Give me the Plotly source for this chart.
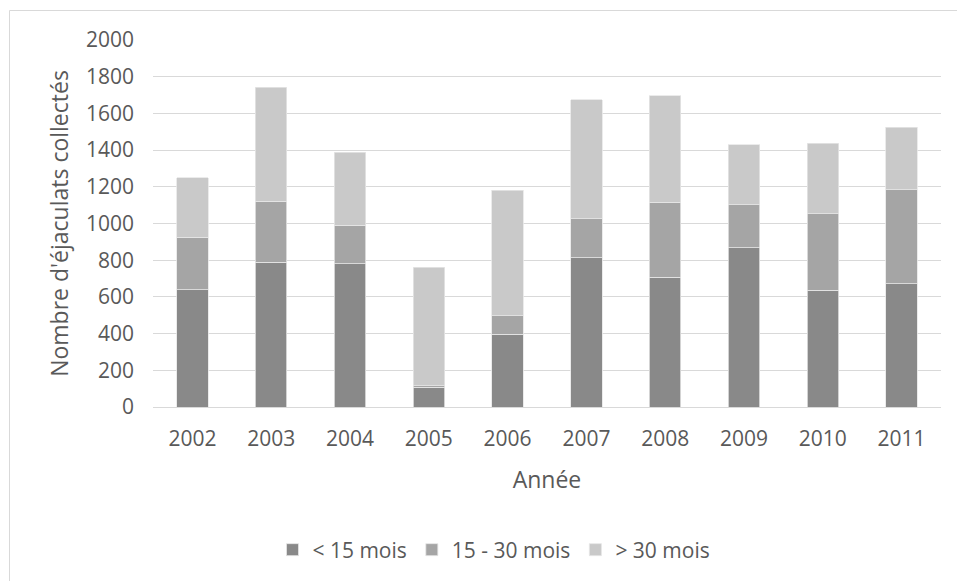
import plotly.graph_objects as go

# Collected ejaculates per year, split by bull age class
years = ["2002", "2003", "2004", "2005", "2006", "2007", "2008", "2009", "2010", "2011"]
moins_15 = [639, 788, 780, 107, 396, 813, 706, 869, 635, 671]
de_15_a_30 = [287, 334, 211, 9, 101, 212, 410, 233, 418, 512]
plus_30 = [324, 620, 396, 646, 683, 650, 579, 328, 383, 341]

series_names = ["< 15 mois", "15 - 30 mois", "> 30 mois"]
series_values = [moins_15, de_15_a_30, plus_30]
series_colors = ["#898989", "#a5a5a5", "#c9c9c9"]

FONT = "Open Sans"
TEXT = "#595959"
FS = 21
FS_TITLE = 23

fig = go.Figure()
for name, vals, col in zip(series_names, series_values, series_colors):
    fig.add_trace(go.Bar(
        x=years, y=vals, name=name,
        marker=dict(color=col, line=dict(color="#e6e6e6", width=0.8)),
    ))

W, H = 957, 581
L, R, T, B = 153, 16, 40, 174
pw = W - L - R
ph = H - T - B

fig.update_layout(
    width=W, height=H,
    barmode="stack", bargap=0.6,
    margin=dict(l=L, r=R, t=T, b=B, pad=0, autoexpand=False),
    paper_bgcolor="white", plot_bgcolor="white",
    font=dict(family=FONT, size=FS, color=TEXT),
    showlegend=True,
    legend=dict(
        orientation="h",
        xref="container", x=494 / W, xanchor="center",
        yref="container", y=1 - 550 / H, yanchor="middle",
        font=dict(family=FONT, size=FS, color=TEXT),
        itemwidth=30, traceorder="normal", bgcolor="rgba(0,0,0,0)",
    ),
    xaxis=dict(
        showgrid=False, showline=True, linecolor="#d9d9d9", linewidth=1,
        ticks="", ticklabelstandoff=13, automargin=False,
        title=dict(text="Année", standoff=20, font=dict(family=FONT, size=FS_TITLE, color=TEXT)),
        fixedrange=True,
    ),
    yaxis=dict(
        range=[0, 2000], dtick=200, tick0=0,
        showgrid=True, gridcolor="#d9d9d9", gridwidth=1,
        zeroline=True, zerolinecolor="#d9d9d9", zerolinewidth=1,
        showline=False, ticks="", ticklabelstandoff=18, automargin=False,
        title=dict(text="Nombre d'éjaculats collectés", standoff=10,
                   font=dict(family=FONT, size=FS_TITLE, color=TEXT)),
        fixedrange=True,
    ),
)

# Outer chart-area frame
fig.add_shape(
    type="rect", xref="paper", yref="paper",
    x0=(9.5 - L) / pw, x1=(W + 20 - L) / pw,
    y0=-(H + 20 - T - ph) / ph, y1=1 + (T - 10.5) / ph,
    line=dict(color="#d9d9d9", width=1), fillcolor="rgba(0,0,0,0)", layer="below",
)

fig.write_html("out.html")
